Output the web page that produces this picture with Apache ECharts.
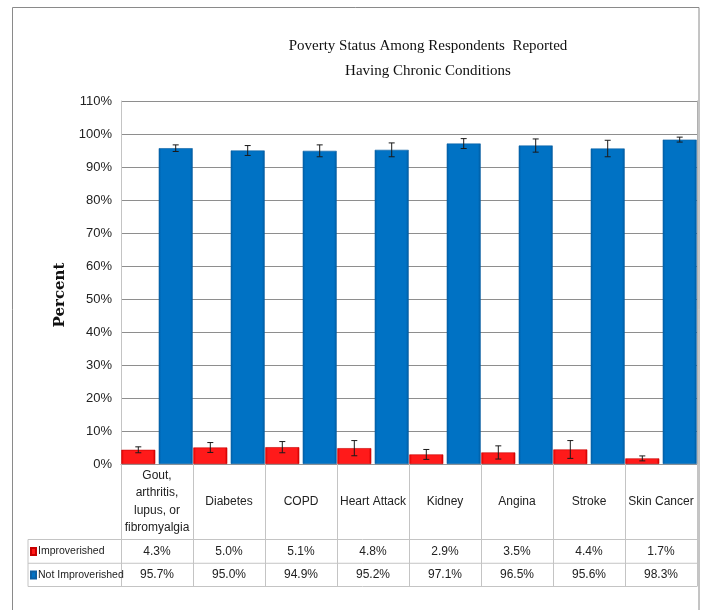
<!DOCTYPE html>
<html>
<head>
<meta charset="utf-8">
<script src="https://cdn.jsdelivr.net/npm/echarts@6/dist/echarts.min.js"></script>
<style>html,body{margin:0;padding:0;background:#fff}#c{width:703px;height:610px}</style>
</head>
<body>
<div id="c"></div>
<script>
const categories = ['Gout,\narthritis,\nlupus, or\nfibromyalgia','Diabetes','COPD','Heart Attack','Kidney','Angina','Stroke','Skin Cancer'];
const improverished = [4.3, 5.0, 5.1, 4.8, 2.9, 3.5, 4.4, 1.7];
const notImproverished = [95.7, 95.0, 94.9, 95.2, 97.1, 96.5, 95.6, 98.3];
const improverishedErr = [0.9, 1.5, 1.7, 2.3, 1.5, 2.0, 2.7, 0.75];
const notImproverishedErr = [1.0, 1.5, 1.8, 2.1, 1.5, 2.0, 2.5, 0.75];
const seriesNames = ['Improverished', 'Not Improverished'];
const yTicks = {min: 0, max: 110, interval: 10};

const SANS = '"Liberation Sans", sans-serif';
const GRID = {left: 121, right: 6, top: 101, bottom: 146};
const BAR_W = 34, GAP = 0.1;
const ROW1 = 551.5, ROW2 = 575, AXIS_Y = 464;

function errSeries(name, vals, errs, sign) {
  return {
    type: 'custom', name: name, z: 5,
    data: vals.map((v, i) => [i, v, errs[i]]),
    renderItem: function (params, api) {
      const i = api.value(0), v = api.value(1), e = api.value(2);
      const hi = api.coord([i, v + e]);
      const lo = api.coord([i, v - e]);
      const cx = hi[0] + sign * BAR_W * (1 + GAP) / 2;
      const st = {stroke: '#1a1a1a', lineWidth: 1};
      return {type: 'group', children: [
        {type: 'line', shape: {x1: cx, y1: hi[1], x2: cx, y2: lo[1]}, style: st},
        {type: 'line', shape: {x1: cx - 3, y1: hi[1], x2: cx + 3, y2: hi[1]}, style: st},
        {type: 'line', shape: {x1: cx - 3, y1: lo[1], x2: cx + 3, y2: lo[1]}, style: st}
      ]};
    }
  };
}

const fmt = v => v.toFixed(1) + '%';
const chart = echarts.init(document.getElementById('c'));
const W = 703, plotR = W - GRID.right;
chart.setOption({
  animation: false,
  title: {
    text: 'Poverty Status Among Respondents  Reported\nHaving Chronic Conditions',
    left: 423, top: 29, textAlign: 'center',
    textStyle: {fontFamily: '"Liberation Serif", serif', fontSize: 15, fontWeight: 'normal', lineHeight: 25, color: '#111'}
  },
  legend: {
    data: seriesNames, orient: 'vertical', left: 30, top: ROW1 - 8, padding: 0,
    icon: 'rect', itemWidth: 5, itemHeight: 7, itemGap: 7.5, selectedMode: false,
    textStyle: {fontFamily: SANS, fontSize: 10.5, color: '#222', lineHeight: 16, padding: [0, 0, 0, -3]}
  },
  grid: GRID,
  xAxis: [
    {type: 'category', data: categories,
     axisLine: {lineStyle: {color: '#9a9a9a'}},
     axisTick: {show: true, length: ROW2 + 11.5 - AXIS_Y, interval: 0, lineStyle: {color: '#c4c4c4'}},
     axisLabel: {interval: 0, margin: 37.5, verticalAlign: 'middle', lineHeight: 17.5,
                 fontFamily: SANS, fontSize: 12, color: '#222'}},
    {type: 'category', data: improverished.map(fmt), position: 'bottom', offset: ROW1 - AXIS_Y,
     axisLine: {show: false}, axisTick: {show: false},
     axisLabel: {interval: 0, margin: 0, verticalAlign: 'middle', fontFamily: SANS, fontSize: 12, color: '#222'}},
    {type: 'category', data: notImproverished.map(fmt), position: 'bottom', offset: ROW2 - AXIS_Y,
     axisLine: {show: false}, axisTick: {show: false},
     axisLabel: {interval: 0, margin: 0, verticalAlign: 'middle', fontFamily: SANS, fontSize: 12, color: '#222'}}
  ],
  yAxis: [
    {type: 'value', min: yTicks.min, max: yTicks.max, interval: yTicks.interval,
     name: 'Percent', nameLocation: 'middle', nameRotate: 90, nameGap: 50,
     nameTextStyle: {fontFamily: '"DejaVu Serif", serif', fontWeight: 'bold', fontSize: 15, color: '#111', padding: [0, 25, 0, 0]},
     axisLine: {show: true, lineStyle: {color: '#c4c4c4'}}, axisTick: {show: false},
     axisLabel: {formatter: '{value}%', margin: 9, fontFamily: SANS, fontSize: 13, color: '#222'},
     splitLine: {lineStyle: {color: '#8e8e8e'}}},
    {type: 'value', min: yTicks.min, max: yTicks.max, position: 'right',
     axisLine: {show: true, lineStyle: {color: '#b0b0b0'}}, axisTick: {show: false},
     axisLabel: {show: false}, splitLine: {show: false}}
  ],
  series: [
    {type: 'bar', name: seriesNames[0], data: improverished, barWidth: BAR_W, barGap: (GAP * 100) + '%',
     itemStyle: {color: {type: 'linear', x: 0, y: 0, x2: 1, y2: 0, colorStops: [
       {offset: 0, color: '#e00000'}, {offset: 0.08, color: '#ff1a1a'}, {offset: 0.92, color: '#ff1a1a'}, {offset: 1, color: '#d00000'}]},
       borderColor: '#c80000', borderWidth: 0.6}},
    {type: 'bar', name: seriesNames[1], data: notImproverished, barWidth: BAR_W,
     itemStyle: {color: {type: 'linear', x: 0, y: 0, x2: 1, y2: 0, colorStops: [
       {offset: 0, color: '#005fa8'}, {offset: 0.08, color: '#0072c4'}, {offset: 0.92, color: '#0072c4'}, {offset: 1, color: '#005a9e'}]},
       borderColor: '#0a5fa3', borderWidth: 0.6}},
    errSeries('errI', improverished, improverishedErr, -1),
    errSeries('errN', notImproverished, notImproverishedErr, 1)
  ],
  graphic: [
    {type: 'rect', shape: {x: 12.5, y: 7.5, width: 686.5, height: 700}, style: {fill: 'none', stroke: '#8a8a8a', lineWidth: 1}, silent: true},
    {type: 'line', shape: {x1: 28, y1: ROW1 - 12, x2: plotR, y2: ROW1 - 12}, style: {stroke: '#c4c4c4', lineWidth: 1}},
    {type: 'line', shape: {x1: 28, y1: (ROW1 + ROW2) / 2, x2: plotR, y2: (ROW1 + ROW2) / 2}, style: {stroke: '#c4c4c4', lineWidth: 1}},
    {type: 'line', shape: {x1: 28, y1: ROW2 + 11.5, x2: plotR, y2: ROW2 + 11.5}, style: {stroke: '#c4c4c4', lineWidth: 1}},
    {type: 'line', shape: {x1: 28, y1: ROW1 - 12, x2: 28, y2: ROW2 + 11.5}, style: {stroke: '#c4c4c4', lineWidth: 1}}
  ]
});
</script>
</body>
</html>
